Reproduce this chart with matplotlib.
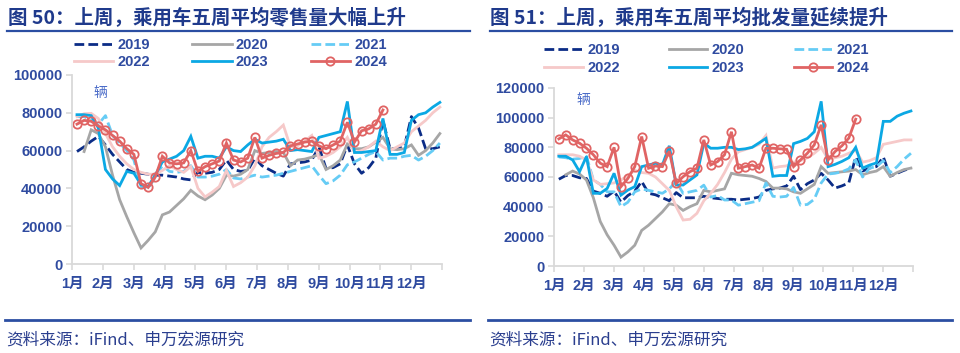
import numpy as np
import matplotlib
matplotlib.use('Agg')
import matplotlib.pyplot as plt
from matplotlib.lines import Line2D

plt.rcParams['font.family'] = ['Liberation Sans', 'Noto Sans CJK SC']

months = ['1月', '2月', '3月', '4月', '5月', '6月', '7月', '8月', '9月', '10月', '11月', '12月']
years = ['2019', '2020', '2021', '2022', '2023', '2024']

# ---- weekly 5-week-average retail sales (辆) ----
retail_2019 = [59500, 62000, 65000, 67500, 63000, 58000, 54000, 50000, 48500, 48000,
               47500, 47000, 47000, 46500, 46000, 45000, 44500, 48500, 48000, 48500,
               50000, 55000, 50000, 49000, 49500, 56000, 52000, 50000, 48000, 46500,
               53000, 53500, 54000, 55000, 62000, 50500, 51000, 53000, 63000, 53000,
               48000, 51000, 56000, 76000, 61000, 61000, 62000, 78000, 72000, 61000,
               61000, 62000]
retail_2020 = [None, 59500, 71000, 69000, 62000, 47000, 34000, 25000, 16500, 8500,
               12500, 17000, 26000, 27500, 31000, 34500, 39000, 36000, 34000, 36500,
               40000, 47000, 46500, 47500, 50000, 60000, 58500, 59000, 59500, 59000,
               52000, 55000, 55500, 56500, 58000, 50000, 52000, 55000, 63500, 61000,
               61000, 62000, 64500, 67000, 61000, 60500, 61000, 63000, 57500, 60000,
               64000, 69000]
retail_2021 = [78000, 78000, 76000, 74000, 78500, 68000, 64000, 60000, 55000, 41000,
               40000, 46000, 52000, 49000, 48500, 49000, 52000, 46000, 46000, 46500,
               47500, 50000, 45500, 45000, 46000, 47000, 46000, 46500, 47000, 48000,
               49000, 50000, 51000, 52000, 47000, 42500, 44000, 47000, 52500, 54000,
               56000, 58000, 59500, 55000, 56000, 56000, 57000, 57500, 55000, 57000,
               60000, 64000]
retail_2022 = [78000, 79500, 79700, 77000, 69000, 62000, 57000, 53000, 50000, 48500,
               47500, 47500, 49500, 52000, 50000, 48500, 51500, 40000, 35500, 38000,
               41000, 49500, 41000, 43000, 46000, 52000, 62000, 67000, 70000, 73500,
               62000, 62500, 65000, 68000, 56000, 57000, 59000, 62000, 67000, 59000,
               60000, 62000, 65000, 62000, 60000, 62000, 64000, 70000, 73000, 76000,
               80000, 83000]
retail_2023 = [79000, 79000, 78500, 72000, 50000, 45000, 41500, 49000, 48000, 42000,
               41000, 47000, 54000, 55500, 57000, 60000, 67500, 56000, 57000, 57000,
               56000, 62000, 60000, 59500, 63000, 66000, 64000, 64500, 65000, 66000,
               60000, 60500, 60000, 59500, 67000, 68000, 69000, 70000, 86000, 59000,
               59000, 59500, 60000, 77000, 58000, 58000, 59000, 76000, 79000, 80000,
               83000, 85500]
retail_2024 = [74000, 76000, 75500, 73000, 71000, 68000, 65000, 61000, 58000, 42500,
               40500, 46000, 57000, 53500, 53000, 53500, 60000, 49000, 51500, 53000,
               54500, 64000, 55000, 54000, 56000, 67000, 56000, 57500, 58500, 59000,
               62500, 63500, 64500, 65000, 62500, 61000, 63000, 65000, 75000, 64500,
               70500, 71500, 74000, 81500]

# ---- weekly 5-week-average wholesale (辆) ----
whole_2019 = [58500, 61000, 61000, 59500, 59000, 50500, 49000, 47000, 50500, 43000,
              47500, 50500, 57000, 49000, 48000, 46000, 44000, 49500, 46000, 46000,
              46000, 47000, 46000, 45500, 45000, 45000, 44500, 45000, 45500, 46500,
              51000, 52000, 52500, 54000, 60500, 51500, 55500, 58000, 62500, 58000,
              52500, 54000, 56000, 73500, 64000, 66000, 67000, 73500, 60500, 62500,
              64500, 66000]
whole_2020 = [None, 61500, 64000, 62000, 58000, 46000, 30000, 21000, 14000, 6000,
              9500, 14000, 24000, 27500, 32000, 36500, 42000, 41000, 37500, 40000,
              42000, 51000, 50000, 51000, 52000, 62500, 61500, 61000, 60500, 59000,
              57000, 52500, 52500, 52000, 50000, 49000, 52000, 55000, 67000, 62500,
              63000, 63500, 64000, 65000, 61500, 63000, 64000, 67000, 60500, 63000,
              65000, 66000]
whole_2021 = [73500, 73000, 72000, 72500, 74000, 58000, 55000, 50000, 50000, 40000,
              43000, 50000, 52000, 51000, 50000, 49000, 52000, 57000, 49000, 50000,
              51000, 54500, 46500, 47500, 44500, 44500, 41000, 42000, 43000, 44000,
              56000, 47000, 46500, 47000, 53000, 41000, 41500, 45000, 56000, 62000,
              62500, 63500, 65500, 71500, 60000, 66000, 67000, 71000, 63000, 67000,
              72000, 76000]
whole_2022 = [75000, 75000, 75000, 74000, 71500, 58000, 55000, 55500, 56000, 58000,
              61000, 64500, 63000, 62500, 60000, 55500, 51000, 40000, 31000, 31500,
              35500, 44000, 49000, 55000, 63000, 72000, 77000, 78500, 80000, 82000,
              88000, 66000, 67000, 67500, 70000, 71000, 73000, 76000, 80000, 72000,
              73000, 74000, 76000, 78000, 70000, 71000, 73000, 82000, 83000, 84000,
              85000, 85000]
whole_2023 = [74000, 74000, 71500, 63600, 73800, 49000, 49000, 52300, 62500, 47800,
              51200, 53500, 67000, 68100, 69300, 68100, 81000, 54600, 54600, 58000,
              61400, 82800, 79400, 79400, 80000, 80000, 78500, 79000, 80000, 83000,
              86000, 60500, 61000, 61000, 82500, 84000, 86000, 90500, 111000, 67000,
              68500, 70500, 73000, 80000, 66000, 68000, 69500, 97500, 97500, 101000,
              103000, 104500]
whole_2024 = [85700, 88400, 85000, 82800, 79400, 75000, 69300, 67000, 80000, 53500,
              59000, 67000, 87300, 65900, 67400, 67000, 77500, 55700, 60200, 63600,
              65900, 85000, 68100, 70400, 75000, 90500, 65900, 67000, 68100, 65900,
              79400, 79400, 79000, 78700, 67000, 71500, 76000, 81700, 95200, 71500,
              77100, 81000, 86200, 99000]

retail = [retail_2019, retail_2020, retail_2021, retail_2022, retail_2023, retail_2024]
whole = [whole_2019, whole_2020, whole_2021, whole_2022, whole_2023, whole_2024]

titles = ['图 50：上周，乘用车五周平均零售量大幅上升', '图 51：上周，乘用车五周平均批发量延续提升']
source = '资料来源：iFind、申万宏源研究'
unit = '辆'

styles = {
    '2019': dict(color='#0B2C86', lw=2.0, dashes=(3.5, 1.5)),
    '2020': dict(color='#A6A6A6', lw=2.0),
    '2021': dict(color='#66CCF5', lw=2.0, dashes=(3.5, 1.5)),
    '2022': dict(color='#F6C9C9', lw=2.0),
    '2023': dict(color='#0BA8E4', lw=2.0),
    '2024': dict(color='#E06464', lw=2.0, marker='o', markersize=6,
                 markerfacecolor='none', markeredgewidth=1.3),
}

W, H = 960, 353
def fx(p): return p / W
def fy(p): return 1 - p / H

TXT = '#2F4BA0'
TITLE = '#1F3A8C'
RULE = '#2B4EA2'

fig = plt.figure(figsize=(9.6, 3.53), dpi=100)

panels = [
    dict(rect=[fx(72), fy(264), (442 - 72) / W, (264 - 75) / H], data=retail, ymax=100000,
         title_x=8, rule=(7, 470), leg=(74, 38.0), colsp=2.87, lsp=0.2, hl=2.7, unit=(100, 93)),
    dict(rect=[fx(554), fy(266), (913 - 554) / W, (266 - 88) / H], data=whole, ymax=120000,
         title_x=490, rule=(490, 952), leg=(544, 43.0), colsp=3.37, lsp=0.3, hl=2.65, unit=(583, 100)),
]

for i, p in enumerate(panels):
    ax = fig.add_axes(p['rect'])
    handles = []
    for yr, vals in zip(years, p['data']):
        v = np.array([np.nan if a is None else a for a in vals], dtype=float)
        x = (np.arange(1, len(v) + 1) - 0.3) * 12 / 52
        ln, = ax.plot(x, v, label=yr, solid_joinstyle='miter', **styles[yr])
        handles.append(ln)
    ax.set_xlim(0, 12)
    ax.set_ylim(0, p['ymax'])
    ax.set_xticks(range(13))
    ax.set_xticklabels(months + [''])
    yt = list(range(0, p['ymax'] + 1, 20000))
    ax.set_yticks(yt)
    ax.set_yticklabels([str(t) for t in yt])
    for s in ['top', 'right']:
        ax.spines[s].set_visible(False)
    for s in ['left', 'bottom']:
        ax.spines[s].set_color('#D9D9D9')
        ax.spines[s].set_linewidth(1.3)
    ax.tick_params(axis='both', colors='#D9D9D9', length=4, width=1.2,
                   labelcolor=TXT, labelsize=10.5)
    ax.tick_params(axis='y', pad=3)
    ax.tick_params(axis='x', pad=5)
    for lab in ax.get_xticklabels() + ax.get_yticklabels():
        lab.set_fontweight('bold')
    ax.patch.set_alpha(0)

    order = [0, 3, 1, 4, 2, 5]
    leg = ax.legend([handles[k] for k in order], [years[k] for k in order], ncol=3,
                    loc='upper left', bbox_to_anchor=(fx(p['leg'][0]), fy(p['leg'][1])),
                    bbox_transform=fig.transFigure, frameon=False, fontsize=10.5,
                    handlelength=p['hl'], handletextpad=0.3, columnspacing=p['colsp'],
                    labelspacing=p['lsp'], borderpad=0, borderaxespad=0)
    for t in leg.get_texts():
        t.set_color(TXT)
        t.set_fontweight('bold')

    fig.text(fx(p['unit'][0]), fy(p['unit'][1]), unit, color='#4A6BC8', fontsize=10,
             ha='center', va='center', family=['Noto Sans CJK SC'])

    fig.text(fx(p['title_x']), fy(18), titles[i], color=TITLE, fontsize=14, fontweight='bold',
             ha='left', va='center', family=['Noto Sans CJK SC', 'DejaVu Sans'])
    fig.add_artist(Line2D([fx(p['rule'][0]), fx(p['rule'][1])], [fy(31), fy(31)],
                          color=RULE, lw=1.6))
    fig.add_artist(Line2D([fx(p['rule'][0] - 2), fx(p['rule'][1])], [fy(320), fy(320)],
                          color=RULE, lw=2.0))
    fig.text(fx(p['rule'][0] - 1), fy(340), source, color='#2B3F8F', fontsize=12,
             ha='left', va='center', family=['Noto Sans CJK SC', 'DejaVu Sans'])

fig.savefig('out.png', dpi=100)
